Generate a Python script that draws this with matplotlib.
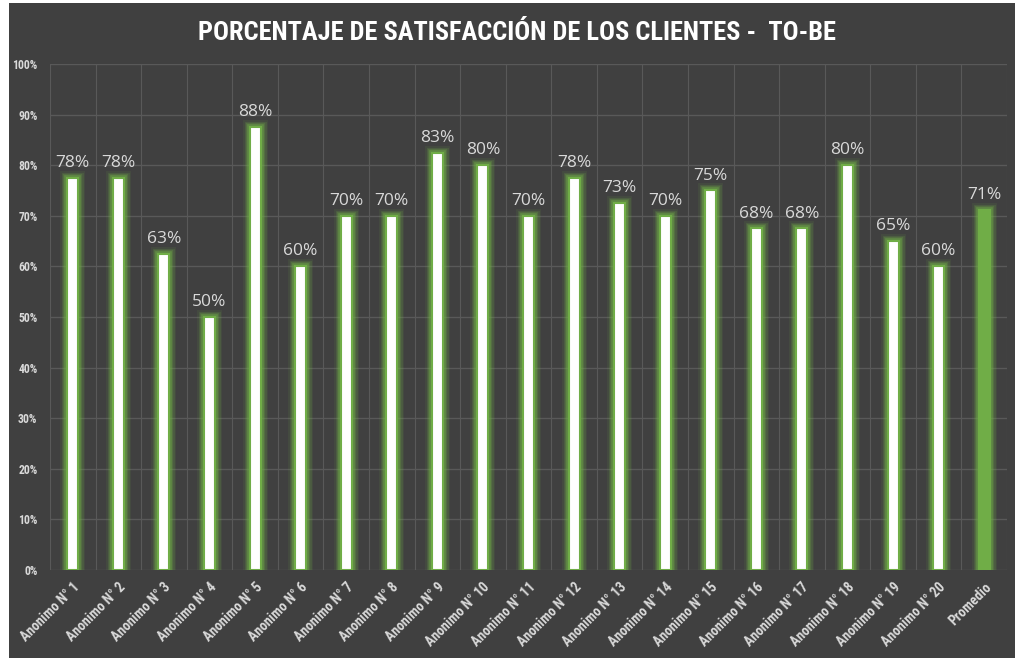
import numpy as np
import matplotlib.pyplot as plt
from matplotlib.patches import Rectangle
from matplotlib import font_manager

categories = [f"Anonimo N° {i}" for i in range(1, 21)] + ["Promedio"]
values = [77.5, 77.5, 62.5, 50.0, 87.5, 60.0, 70.0, 70.0, 82.5, 80.0,
          70.0, 77.5, 72.5, 70.0, 75.0, 67.5, 67.5, 80.0, 65.0, 60.0, 71.1]
yticks = [0, 10, 20, 30, 40, 50, 60, 70, 80, 90, 100]

names = {f.name for f in font_manager.fontManager.ttflist}
narrow = 'DejaVu Sans'
for cand in ['Liberation Sans Narrow', 'Roboto Condensed', 'Open Sans Condensed', 'DejaVu Sans Condensed']:
    if cand in names:
        narrow = cand
        break
has_cond = any(f.name == 'DejaVu Sans' and f.stretch == 'condensed' for f in font_manager.fontManager.ttflist)
stretch = 'condensed' if (narrow == 'DejaVu Sans' and has_cond) else 'normal'

bg = '#404040'
grid = '#595959'
green = '#70ad47'
txt = '#d9d9d9'

fig = plt.figure(figsize=(10.15, 6.58), dpi=100, facecolor=bg)
# white strips at the left and top edge
fig.patches.append(Rectangle((0, 0), 9 / 1015, 1, transform=fig.transFigure,
                             facecolor='white', edgecolor='none', zorder=-10))
fig.patches.append(Rectangle((0, 655 / 658), 1, 3 / 658, transform=fig.transFigure,
                             facecolor='white', edgecolor='none', zorder=-10))
ax = fig.add_axes([50 / 1015, 1 - 570 / 658, 957 / 1015, (570 - 64) / 658])
ax.set_facecolor(bg)

x = np.arange(len(categories))
w = 0.24
for i, v in enumerate(values):
    face = green if i == len(values) - 1 else 'white'
    # glow
    for lw, a in [(10, 0.1), (8, 0.16), (6, 0.25), (4, 0.45)]:
        ax.bar(x[i], v, width=w, color='none', edgecolor=green, linewidth=lw, alpha=a, zorder=2)
    ax.bar(x[i], v, width=w, color=face, edgecolor=green, linewidth=1.5, zorder=3)
    ax.annotate(f"{int(np.floor(v + 0.5))}%", xy=(x[i], v), xytext=(0, 5),
                textcoords='offset points', ha='center', va='bottom',
                fontsize=12.5, color=txt, family=['Open Sans', 'DejaVu Sans'])

ax.set_xlim(-0.5, len(categories) - 0.5)
ax.set_ylim(0, 100)
ax.set_yticks(yticks)
ax.set_yticklabels([f"{t}%" for t in yticks], fontsize=8.5, color=txt,
                   family=narrow, fontweight='bold', fontstretch=stretch)
ax.set_xticks(x)
ax.set_xticklabels(categories, rotation=45, ha='right', rotation_mode='anchor',
                   fontsize=10, color=txt, family=narrow, fontweight='bold', fontstretch=stretch)
ax.tick_params(axis='y', length=0, pad=9)
ax.tick_params(axis='x', length=0, pad=7)
ax.set_xticks(np.arange(-0.5, len(categories), 1), minor=True)
ax.tick_params(which='minor', length=0)
ax.grid(axis='y', which='major', color=grid, linewidth=1, zorder=1)
ax.grid(axis='x', which='minor', color=grid, linewidth=0.8, zorder=1)
ax.grid(axis='x', which='major', visible=False)
ax.set_axisbelow(True)
for s in ax.spines.values():
    s.set_visible(False)

fig.text(0.509, 1 - 33 / 658, "PORCENTAJE DE SATISFACCIÓN DE LOS CLIENTES -  TO-BE",
         ha='center', va='center', fontsize=19, fontweight='bold', color='white',
         family=narrow, fontstretch=stretch)

fig.savefig('out.png', dpi=100, facecolor=fig.get_facecolor())
